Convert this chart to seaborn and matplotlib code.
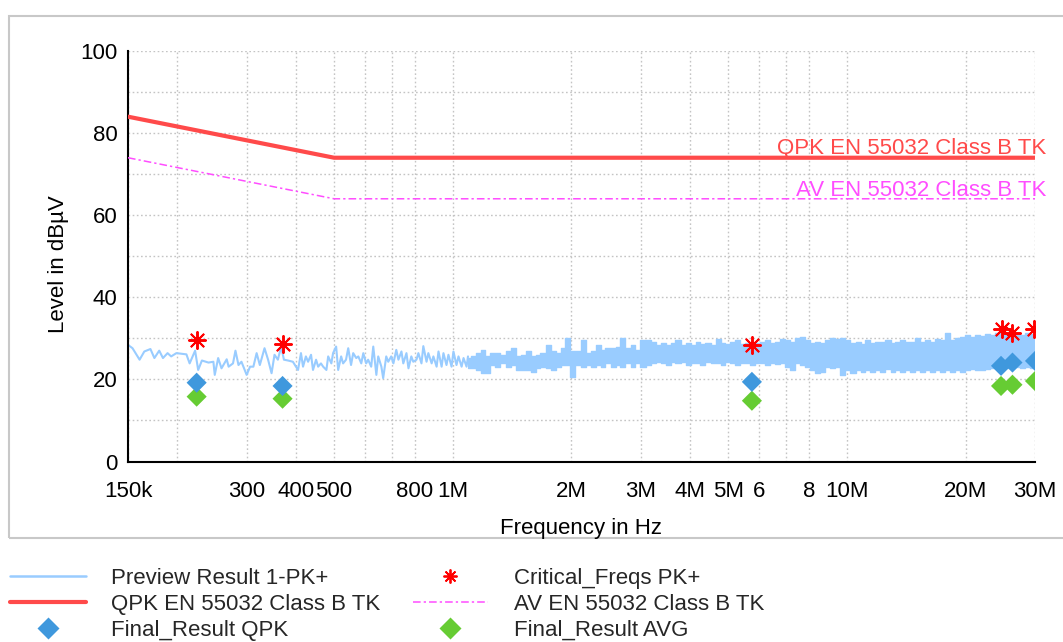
import numpy as np
import pandas as pd
import matplotlib
matplotlib.use("Agg")
import matplotlib.pyplot as plt
import seaborn as sns
from matplotlib.ticker import FixedLocator, FixedFormatter, NullLocator
from matplotlib.lines import Line2D
from matplotlib.patches import Rectangle

# ---------------------------------------------------------------------------
# Preview scan, PK+ detector: sparse part of the sweep (kHz, dBuV)
line_khz = [150, 154, 160.5, 165, 171, 175, 180, 184, 189, 193,
            199, 211, 215, 222, 226, 231, 240, 247, 249, 254,
            259, 267, 270, 277, 281, 286, 291, 300, 306, 312,
            318, 324, 333, 340, 347, 353, 360, 367, 373, 382,
            393, 405,
            412, 417, 424, 429.5, 437, 442, 450, 455.5, 463, 469,
            478, 483, 492, 497, 506, 512, 521, 527, 536, 543,
            552, 559, 569, 576, 586, 593, 603, 610, 621, 628.5,
            640, 647, 659, 666, 678, 686, 698, 707, 719, 728,
            741, 749, 763, 772, 785, 794, 809, 818, 833, 842,
            858, 867, 884, 893, 910, 920, 937, 947, 964, 975,
            993, 1004, 1022, 1034, 1053, 1065, 1084, 1093]
line_dbuv = [28.4, 27.6, 24.8, 26.8, 27.4, 25.2, 27.0, 25.2, 26.4, 25.6,
             26.4, 26.1, 23.9, 27.0, 22.3, 24.6, 24.1, 24.3, 21.1, 25.2,
             22.7, 24.9, 23.1, 23.9, 27.0, 23.5, 24.3, 21.1, 23.1, 23.1,
             26.4, 23.5, 27.6, 24.8, 21.5, 26.0, 24.8, 28.0, 24.8, 24.6,
             24.3, 22.3,
             26.4, 23.1, 25.6, 24.3, 26.0, 22.3, 24.8, 23.1, 23.9, 23.1,
             22.3, 25.6, 23.9, 26.4, 28.0, 22.3, 25.6, 23.9, 24.8, 27.6,
             23.5, 26.4, 25.2, 25.6, 23.9, 26.4, 23.9, 24.8, 23.1, 28.0,
             21.1, 25.6, 23.1, 20.3, 25.6, 24.3, 25.6, 23.9, 27.2, 24.8,
             26.8, 23.9, 26.4, 22.7, 25.6, 24.3, 24.8, 26.4, 23.9, 28.1,
             24.3, 26.4, 23.9, 25.6, 23.1, 26.8, 23.1, 26.4, 23.5, 26.0,
             23.1, 26.8, 23.5, 25.6, 23.1, 25.2, 23.1, 25.6]

# Dense part of the sweep: per-frequency max / min envelope (MHz, dBuV)
band_mhz = [1.093, 1.126, 1.159, 1.193, 1.228, 1.265, 1.302, 1.341, 1.381, 1.422,
            1.464, 1.507, 1.552, 1.598, 1.645, 1.694, 1.744, 1.796, 1.849, 1.904,
            1.960, 2.018, 2.078, 2.140, 2.203, 2.269, 2.336, 2.405, 2.476, 2.550,
            2.625, 2.703, 2.783, 2.866, 2.950, 3.038, 3.128, 3.221, 3.316, 3.415,
            3.516, 3.620, 3.727, 3.838, 3.951, 4.069, 4.189, 4.313, 4.441, 4.573,
            4.708, 4.848, 4.991, 5.139, 5.291, 5.448, 5.610, 5.776, 5.947, 6.124,
            6.305, 6.492, 6.684, 6.882, 7.086, 7.296, 7.512, 7.735, 7.964, 8.200,
            8.443, 8.693, 8.950, 9.216, 9.489, 9.770, 10.06, 10.36, 10.67, 10.98,
            11.31, 11.64, 11.99, 12.34, 12.71, 13.09, 13.47, 13.87, 14.28, 14.71,
            15.14, 15.59, 16.05, 16.53, 17.01, 17.52, 18.04, 18.57, 19.12, 19.69,
            20.27, 20.87, 21.49, 22.13, 22.79, 23.46, 24.16, 24.87, 25.61, 26.37,
            27.15, 27.96, 28.79, 29.64, 30.00]
band_hi = [25.2, 25.6, 26.4, 27.2, 25.6, 26.4, 26.4, 26.0, 26.8, 27.6,
           25.6, 26.0, 26.8, 25.6, 26.0, 26.4, 28.4, 26.8, 26.4, 27.6,
           30.0, 26.8, 26.8, 29.6, 26.4, 26.8, 28.4, 27.2, 27.6, 27.6,
           28.0, 30.0, 27.6, 28.4, 27.2, 29.6, 29.6,
           29.2, 28.4, 28.8, 28.4, 28.8, 29.6, 28.4, 28.8, 28.4, 29.2,
           28.7, 28.8, 28.4, 29.8, 28.8, 28.7, 29.0, 29.6, 28.7, 28.8,
           29.2, 28.8, 29.0, 29.5, 28.8, 29.2, 29.8, 29.6, 29.2, 30.0,
           30.3, 29.6, 28.8, 29.2, 28.8, 29.6, 30.0, 29.8,
           30.0, 29.6, 28.8, 29.2, 28.7, 29.6, 28.8, 29.2, 29.0, 29.5,
           28.8, 29.2, 29.6, 29.0, 29.2, 30.0, 29.2, 29.6, 29.2, 29.8,
           29.5, 31.3, 29.6, 30.0, 30.3, 30.9, 30.4, 30.9, 30.6, 31.1,
           30.9, 31.3, 30.9, 31.3, 31.1, 31.3, 30.9, 31.3, 31.1, 30.9]
band_lo = [22.7, 22.7, 22.3, 21.5, 21.5, 23.5, 23.1, 23.9, 23.1, 23.5,
           22.3, 22.3, 22.3, 21.9, 22.7, 23.1, 22.7, 22.3, 23.1, 23.5,
           23.5, 20.7, 23.5, 23.1, 23.5, 23.1, 23.5, 23.1, 23.9, 23.1,
           23.5, 23.1, 23.9, 23.1, 23.9, 23.1, 23.5,
           23.9, 24.3, 23.9, 23.5, 24.3, 23.9, 24.3, 23.5, 23.9, 24.1,
           23.5, 24.3, 23.9, 24.1, 23.5, 24.3, 23.9, 23.5, 24.1, 23.9,
           23.5, 24.1, 23.9, 23.5, 24.1, 23.8, 23.9, 23.1, 22.3, 23.9,
           23.5, 23.1, 22.3, 21.5, 21.9, 23.1, 22.7, 23.1,
           21.1, 22.3, 21.5, 22.3, 21.9, 22.3, 21.7, 22.3, 21.9, 22.5,
           21.7, 22.3, 21.9, 22.3, 21.7, 22.3, 21.9, 22.2, 21.7, 22.3,
           21.9, 22.3, 21.7, 22.3, 21.9, 22.3, 22.5, 22.2, 22.3, 22.5,
           22.7, 22.7, 22.5, 22.7, 22.7, 23.0, 22.7, 23.0, 22.7, 23.1]

# EN 55032 Class B limit lines (TK)
limit_hz = [150e3, 500e3, 30e6]
qpk_limit = [84, 74, 74]
av_limit = [74, 64, 64]

# Critical frequencies and final measurements
crit_hz = [224e3, 370e3, 5.74e6, 24.7e6, 26.3e6, 29.9e6]
crit_dbuv = [29.5, 28.6, 28.4, 32.2, 31.3, 32.2]
final_hz = [224e3, 370e3, 5.74e6, 24.6e6, 26.3e6, 30.0e6]
final_qpk = [19.2, 18.4, 19.4, 23.3, 24.1, 24.5]
final_avg = [15.8, 15.3, 14.8, 18.4, 18.7, 19.6]

# Axis ticks
xtick_hz = [150e3, 200e3, 300e3, 400e3, 500e3, 600e3, 700e3, 800e3, 1e6,
            2e6, 3e6, 4e6, 5e6, 6e6, 7e6, 8e6, 10e6, 20e6, 30e6]
xtick_labels = ["150k", "", "300", "400", "500", "", "", "800", "1M",
                "2M", "3M", "4M", "5M", "6", "", "8", "10M", "20M", "30M"]
ytick_major = [0, 20, 40, 60, 80, 100]
ytick_minor = [10, 30, 50, 70, 90]

# ---------------------------------------------------------------------------
C_PREVIEW = "#99CCFF"
C_QPK = "#FF4A4A"
C_AV = "#FF4DFF"
C_CRIT = "#FF0000"
C_FQPK = "#3F98DD"
C_FAVG = "#66CC33"
GRID = "#C4C4C4"

sns.set_theme(style="white")
plt.rcParams["font.family"] = ["Liberation Sans", "DejaVu Sans"]
plt.rcParams["font.size"] = 16

W, H = 1063, 642
fig = plt.figure(figsize=(W / 100, H / 100), dpi=100)
fig.patch.set_facecolor("white")

# light frame around the graph area
fig.add_artist(Rectangle((9 / W, 1 - 538 / H), 1.2, (538 - 16) / H,
                         transform=fig.transFigure, fill=False,
                         ec="#C8C8C8", lw=1.5, zorder=0))

ax = fig.add_axes([128 / W, 1 - 461.5 / H, (1035 - 128) / W, (461.5 - 51) / H])
ax.set_facecolor("white")
ax.set_xscale("log")
ax.set_xlim(150e3, 30e6)
ax.set_ylim(0, 100)

# grid
ax.xaxis.set_major_locator(FixedLocator(xtick_hz))
ax.xaxis.set_major_formatter(FixedFormatter(xtick_labels))
ax.xaxis.set_minor_locator(NullLocator())
ax.yaxis.set_major_locator(FixedLocator(ytick_major))
ax.yaxis.set_minor_locator(FixedLocator(ytick_minor))
ax.grid(True, which="major", axis="x", color=GRID, lw=1.0, ls=(0, (1.2, 1.8)))
ax.grid(True, which="both", axis="y", color=GRID, lw=1.0, ls=(0, (1.2, 1.8)))
ax.set_axisbelow(True)

# preview trace: dense part drawn as a stepped max/min band
band = pd.DataFrame({"hz": np.array(band_mhz) * 1e6, "hi": band_hi, "lo": band_lo})
ax.fill_between(band["hz"], band["lo"], band["hi"], step="mid",
                color=C_PREVIEW, lw=0, zorder=2)
sns.lineplot(x=band["hz"], y=band["hi"], ax=ax, color=C_PREVIEW, lw=1.0,
             drawstyle="steps-mid", sort=False, estimator=None, zorder=2)
sns.lineplot(x=band["hz"], y=band["lo"], ax=ax, color=C_PREVIEW, lw=1.0,
             drawstyle="steps-mid", sort=False, estimator=None, zorder=2)
sweep = pd.DataFrame({"hz": np.array(line_khz) * 1e3, "dbuv": line_dbuv})
sns.lineplot(data=sweep, x="hz", y="dbuv", ax=ax, color=C_PREVIEW, lw=1.5,
             sort=False, estimator=None, zorder=2)

# limit lines
lim = pd.DataFrame({"hz": limit_hz, "qpk": qpk_limit, "av": av_limit})
sns.lineplot(data=lim, x="hz", y="qpk", ax=ax, color=C_QPK, lw=3.0,
             sort=False, estimator=None, zorder=3)
sns.lineplot(data=lim, x="hz", y="av", ax=ax, color=C_AV, lw=1.1,
             ls=(0, (5, 2, 1.5, 2)), sort=False, estimator=None, zorder=3)
ax.annotate("QPK EN 55032 Class B TK", xy=(limit_hz[-1], qpk_limit[-1]),
            xytext=(8, 2.5), textcoords="offset points", ha="right",
            va="baseline", color=C_QPK, fontsize=16, zorder=6)
ax.annotate("AV EN 55032 Class B TK", xy=(limit_hz[-1], av_limit[-1]),
            xytext=(8, 1.8), textcoords="offset points", ha="right",
            va="baseline", color=C_AV, fontsize=16, zorder=6)

# final results and critical frequencies
sns.scatterplot(x=final_hz, y=final_avg, ax=ax, marker="D", s=105,
                color=C_FAVG, edgecolor="none", zorder=4)
sns.scatterplot(x=final_hz, y=final_qpk, ax=ax, marker="D", s=105,
                color=C_FQPK, edgecolor="none", zorder=4)
sns.scatterplot(x=crit_hz, y=crit_dbuv, ax=ax, marker=(8, 2, 0), s=150,
                color=C_CRIT, linewidths=1.4, zorder=5)

# axes styling
for side in ("top", "right"):
    ax.spines[side].set_visible(False)
for side in ("left", "bottom"):
    ax.spines[side].set_color("black")
    ax.spines[side].set_linewidth(1.5)
ax.tick_params(axis="x", which="major", direction="inout", length=9.4, width=1.5,
               color="black", pad=9.5, labelsize=16, labelcolor="black")
ax.tick_params(axis="y", which="both", direction="inout", length=10.8, width=1.5,
               color="black", pad=2.0, labelsize=16, labelcolor="black")
ax.set_xlabel("Frequency in Hz", fontsize=16, labelpad=11.5, color="black")
ax.set_ylabel("Level in dB\u00b5V", fontsize=16, color="black",
              family=["Liberation Sans Narrow", "Liberation Sans", "DejaVu Sans"])
ax.yaxis.set_label_coords((69 - 128) / 907, (461.5 - 264) / 410.5)

# legend below the frame
handles = [
    Line2D([], [], color=C_PREVIEW, lw=1.8),
    Line2D([], [], color=C_QPK, lw=3.0),
    Line2D([], [], ls="", marker="D", ms=11, color=C_FQPK, mec="none"),
    Line2D([], [], ls="", marker=(8, 2, 0), ms=10, color=C_CRIT, mew=1.3),
    Line2D([], [], color=C_AV, lw=1.1, ls=(0, (5, 2, 1.5, 2))),
    Line2D([], [], ls="", marker="D", ms=11, color=C_FAVG, mec="none"),
]
labels = ["Preview Result 1-PK+", "QPK EN 55032 Class B TK", "Final_Result QPK",
          "Critical_Freqs PK+", "AV EN 55032 Class B TK", "Final_Result AVG"]
fig.legend(handles, labels, ncol=2, loc="upper left",
           bbox_to_anchor=(10 / W, 1 - 568 / H), frameon=False,
           fontsize=16, handlelength=3.4, handletextpad=1.15,
           columnspacing=1.45, labelspacing=0.22, borderpad=0,
           borderaxespad=0)

fig.savefig("out.png", dpi=100, facecolor="white")
